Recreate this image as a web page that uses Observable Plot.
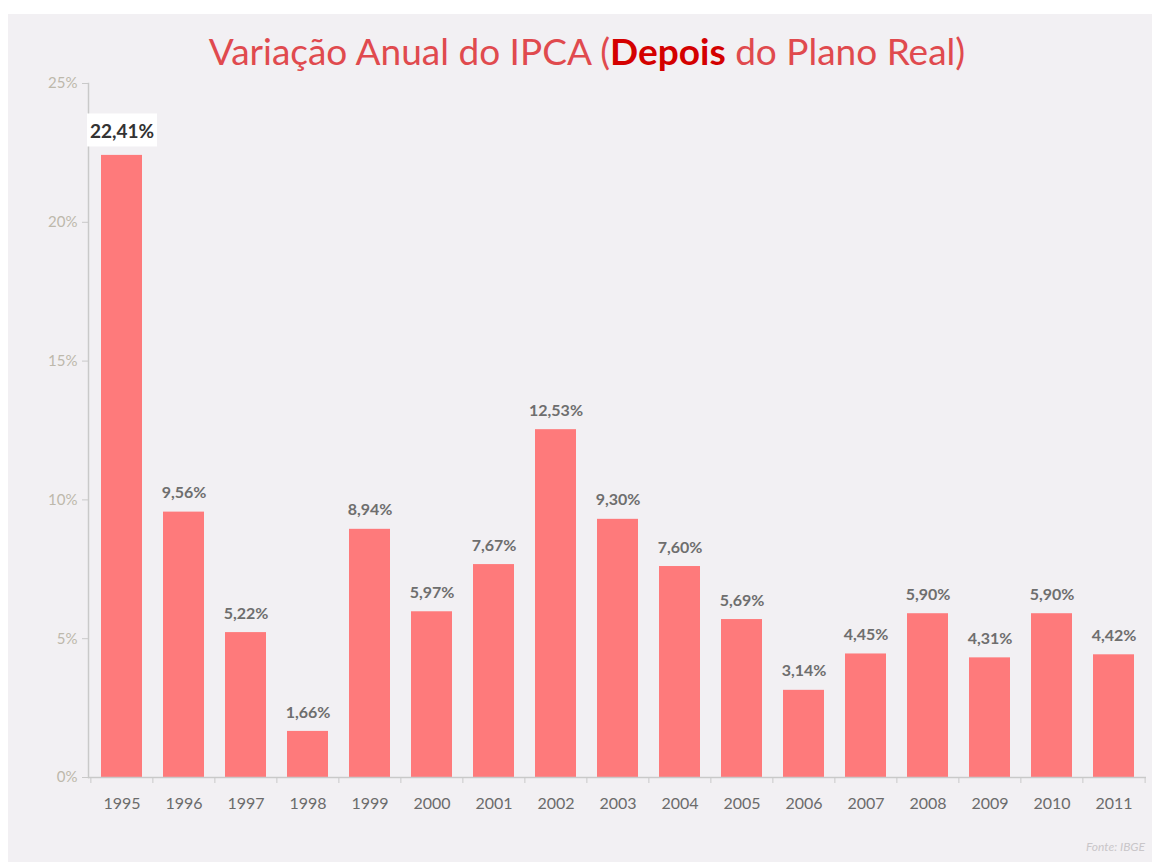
<!DOCTYPE html>
<html>
<head>
<meta charset="utf-8">
<script src="https://cdn.jsdelivr.net/npm/d3@7"></script>
<script src="https://cdn.jsdelivr.net/npm/@observablehq/plot@0.6"></script>
<style>
  html, body { margin: 0; padding: 0; background: #ffffff; }
  #frame { position: absolute; left: 8px; top: 14px; width: 1144px; height: 848px; background: #f2f0f3; font-family: Lato, "Open Sans", sans-serif; }
  #title { height: 56px; text-align: center; padding-left: 14px; font-size: 37px; color: #e04a4e; line-height: 56px; }
  #title span { position: relative; top: 9px; }
  #title b { color: #d40000; font-weight: 700; }
  #source { position: absolute; right: 7px; bottom: 8px; font-size: 12px; font-style: italic; color: #c9c6c9; }
</style>
</head>
<body>
<div id="frame">
  <div id="title"><span>Variação Anual do IPCA (<b>Depois</b> do Plano Real)</span></div>
  <div id="chart"></div>
  <div id="source">Fonte: IBGE</div>
</div>
<script>
const years = ["1995","1996","1997","1998","1999","2000","2001","2002","2003","2004","2005","2006","2007","2008","2009","2010","2011"];
const ipca = [22.41, 9.56, 5.22, 1.66, 8.94, 5.97, 7.67, 12.53, 9.30, 7.60, 5.69, 3.14, 4.45, 5.90, 4.31, 5.90, 4.42];
const yTicks = [0, 5, 10, 15, 20, 25];

const data = years.map((y, i) => ({year: y, value: ipca[i]}));
const fmt = v => v.toFixed(2).replace(".", ",") + "%";

const W = 1144, ML = 80, MR = 6;
const step = (W - ML - MR) / years.length;

const chart = Plot.plot({
  width: W,
  height: 747,
  marginTop: 13,
  marginBottom: 40,
  marginLeft: ML,
  marginRight: MR,
  style: {background: "transparent", fontFamily: "Lato, 'Open Sans', sans-serif"},
  x: {domain: years, paddingInner: 0.34, paddingOuter: 0.17, label: null},
  y: {domain: [0, 25], label: null},
  marks: [
    Plot.barY(data, {x: "year", y: "value", fill: "#fe7a7b"}),
    Plot.ruleY([0], {stroke: "#c9c9c9", strokeWidth: 1.5}),
    Plot.frame({anchor: "left", stroke: "#c9c9c9", strokeWidth: 1.5}),
    Plot.axisY({ticks: yTicks, tickFormat: d => d + "%", tickSize: 6, tickPadding: 5, stroke: "#c9c9c9", strokeOpacity: 1, fill: "#bdb8ab", fontSize: 15}),
    Plot.axisX({tickSize: 0, tickPadding: 20, fill: "#6b6b6b", fontSize: 16}),
    Plot.axisX({tickSize: 6, tickFormat: () => "", dx: -step / 2, stroke: "#c9c9c9", strokeOpacity: 1}),
    Plot.axisX({ticks: [years[years.length - 1]], tickSize: 6, tickFormat: () => "", dx: step / 2, stroke: "#c9c9c9", strokeOpacity: 1}),
    Plot.text(data.slice(1), {x: "year", y: "value", text: d => fmt(d.value), dy: -19, fill: "#6e6e6e", fontWeight: "bold", fontSize: 16}),
    Plot.text(data.slice(0, 1), {x: "year", y: "value", text: d => fmt(d.value), dy: -23, fill: "#333333", fontWeight: "bold", fontSize: 19, className: "hilite"})
  ]
});
document.getElementById("chart").appendChild(chart);

// white box behind the highlighted label, sized from the rendered text
document.querySelectorAll(".hilite text").forEach(t => {
  const b = t.getBBox();
  const r = document.createElementNS("http://www.w3.org/2000/svg", "rect");
  r.setAttribute("x", b.x - 3);
  r.setAttribute("y", b.y - 6);
  r.setAttribute("width", b.width + 6);
  r.setAttribute("height", b.height + 10);
  r.setAttribute("fill", "#ffffff");
  const tr = t.getAttribute("transform");
  if (tr) r.setAttribute("transform", tr);
  t.parentNode.insertBefore(r, t);
});
</script>
</body>
</html>
